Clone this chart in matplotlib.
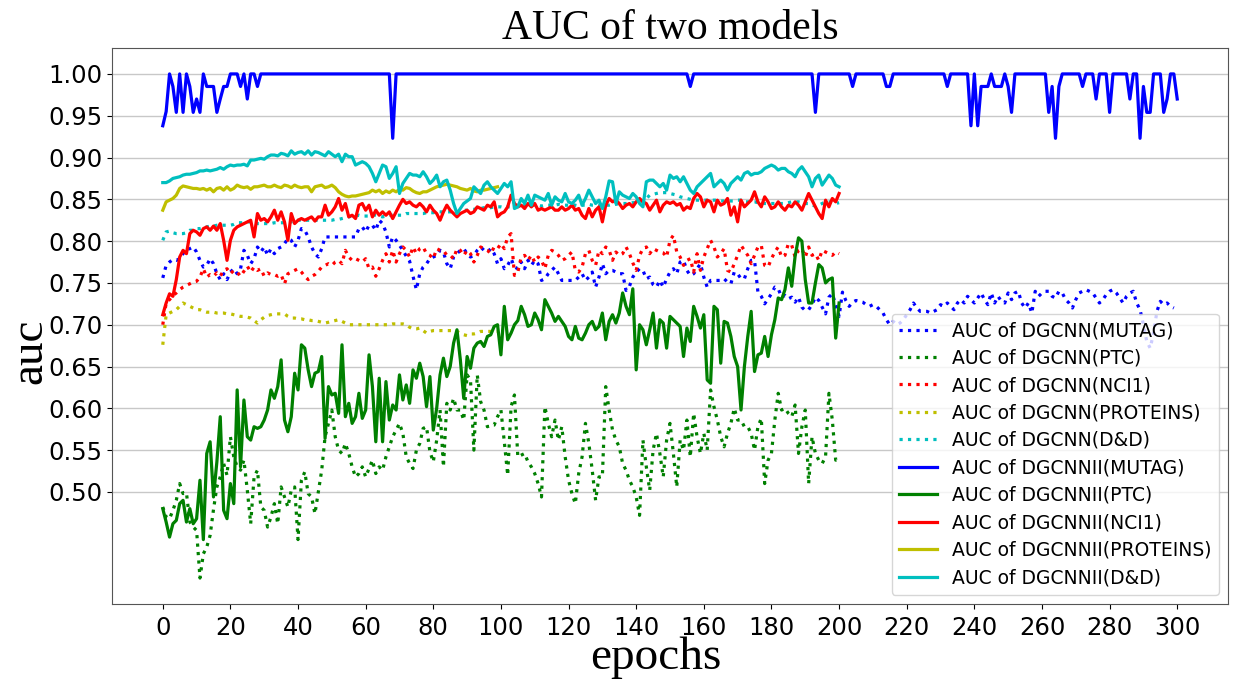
import numpy as np
import matplotlib
matplotlib.use("Agg")
import matplotlib.pyplot as plt

# ---------------- data ----------------
series_names = ["MUTAG", "PTC", "NCI1", "PROTEINS", "D&D"]
series_colors = ["b", "g", "r", "y", "c"]

dgcnn_mutag = [
    0.756, 0.771, 0.775, 0.778, 0.777, 0.779, 0.785, 0.790, 0.791, 0.793,
    0.787, 0.777, 0.769, 0.771, 0.779, 0.773, 0.761, 0.754, 0.761, 0.754,
    0.763, 0.767, 0.761, 0.767, 0.789, 0.783, 0.773, 0.779, 0.793, 0.787,
    0.793, 0.783, 0.791, 0.785, 0.791, 0.793, 0.797, 0.803, 0.801, 0.793,
    0.801, 0.815, 0.813, 0.805, 0.793, 0.785, 0.781, 0.791, 0.805, 0.805,
    0.805, 0.805, 0.805, 0.805, 0.805, 0.805, 0.805, 0.805, 0.815, 0.817,
    0.811, 0.819, 0.819, 0.813, 0.825, 0.821, 0.811, 0.793, 0.805, 0.801,
    0.795, 0.789, 0.782, 0.776, 0.758, 0.742, 0.761, 0.769, 0.773, 0.779,
    0.781, 0.783, 0.789, 0.787, 0.773, 0.767, 0.781, 0.785, 0.789, 0.791,
    0.785, 0.781, 0.783, 0.789, 0.793, 0.789, 0.787, 0.791, 0.785, 0.773,
    0.779, 0.767, 0.771, 0.779, 0.769, 0.767, 0.775, 0.767, 0.777, 0.771,
    0.777, 0.773, 0.753, 0.755, 0.761, 0.765, 0.769, 0.761, 0.753, 0.753,
    0.753, 0.753, 0.753, 0.757, 0.761, 0.753, 0.757, 0.763, 0.745, 0.757,
    0.773, 0.761, 0.765, 0.765, 0.763, 0.761, 0.761, 0.741, 0.746, 0.757,
    0.763, 0.767, 0.765, 0.755, 0.757, 0.748, 0.745, 0.753, 0.745, 0.755,
    0.763, 0.767, 0.761, 0.775, 0.777, 0.765, 0.759, 0.761, 0.767, 0.773,
    0.757, 0.745, 0.753, 0.753, 0.753, 0.753, 0.755, 0.751, 0.749, 0.763,
    0.761, 0.755, 0.755, 0.767, 0.777, 0.777, 0.739, 0.734, 0.725, 0.731,
    0.737, 0.745, 0.743, 0.733, 0.735, 0.731, 0.733, 0.727, 0.733, 0.721,
    0.717, 0.718, 0.724, 0.733, 0.729, 0.721, 0.713, 0.733, 0.737, 0.724,
    0.710, 0.739, 0.729, 0.722, 0.727, 0.729, 0.728, 0.727, 0.724, 0.722,
    0.724, 0.722, 0.718, 0.714, 0.706, 0.700, 0.704, 0.700, 0.702, 0.706,
    0.712, 0.718, 0.726, 0.720, 0.716, 0.716, 0.716, 0.714, 0.716, 0.718,
    0.724, 0.722, 0.726, 0.722, 0.718, 0.726, 0.730, 0.726, 0.734, 0.730,
    0.726, 0.732, 0.738, 0.730, 0.724, 0.738, 0.726, 0.734, 0.728, 0.726,
    0.738, 0.730, 0.738, 0.740, 0.726, 0.720, 0.726, 0.714, 0.740, 0.734,
    0.738, 0.740, 0.740, 0.734, 0.732, 0.740, 0.738, 0.730, 0.726, 0.720,
    0.730, 0.738, 0.740, 0.742, 0.740, 0.738, 0.732, 0.726, 0.730, 0.736,
    0.740, 0.742, 0.738, 0.732, 0.726, 0.734, 0.738, 0.740, 0.726, 0.718,
    0.700, 0.680, 0.672, 0.690, 0.716, 0.728, 0.724, 0.726, 0.722, 0.720,
]

dgcnn_ptc = [
    0.482, 0.470, 0.468, 0.478, 0.490, 0.510, 0.498, 0.499, 0.464, 0.458,
    0.454, 0.397, 0.426, 0.434, 0.448, 0.479, 0.506, 0.518, 0.534, 0.520,
    0.566, 0.542, 0.530, 0.526, 0.538, 0.502, 0.462, 0.518, 0.526, 0.482,
    0.478, 0.458, 0.470, 0.486, 0.462, 0.506, 0.494, 0.482, 0.502, 0.506,
    0.443, 0.514, 0.524, 0.498, 0.494, 0.474, 0.500, 0.526, 0.566, 0.582,
    0.598, 0.566, 0.550, 0.546, 0.558, 0.546, 0.530, 0.518, 0.522, 0.530,
    0.518, 0.528, 0.538, 0.522, 0.530, 0.526, 0.542, 0.554, 0.566, 0.574,
    0.582, 0.570, 0.542, 0.534, 0.528, 0.550, 0.558, 0.576, 0.578, 0.548,
    0.536, 0.562, 0.598, 0.530, 0.606, 0.598, 0.612, 0.598, 0.598, 0.586,
    0.640, 0.634, 0.550, 0.640, 0.608, 0.598, 0.578, 0.580, 0.580, 0.590,
    0.598, 0.560, 0.520, 0.602, 0.616, 0.542, 0.544, 0.546, 0.536, 0.530,
    0.522, 0.510, 0.494, 0.602, 0.582, 0.566, 0.586, 0.562, 0.578, 0.542,
    0.514, 0.498, 0.486, 0.522, 0.542, 0.582, 0.558, 0.526, 0.490, 0.518,
    0.518, 0.626, 0.598, 0.574, 0.562, 0.554, 0.534, 0.526, 0.514, 0.506,
    0.494, 0.472, 0.562, 0.530, 0.502, 0.550, 0.570, 0.546, 0.518, 0.562,
    0.582, 0.546, 0.506, 0.562, 0.550, 0.586, 0.542, 0.594, 0.566, 0.546,
    0.570, 0.550, 0.622, 0.602, 0.586, 0.566, 0.554, 0.570, 0.582, 0.600,
    0.586, 0.586, 0.578, 0.578, 0.570, 0.550, 0.578, 0.588, 0.510, 0.538,
    0.546, 0.586, 0.618, 0.598, 0.600, 0.594, 0.590, 0.604, 0.546, 0.578,
    0.598, 0.510, 0.566, 0.546, 0.538, 0.534, 0.542, 0.618, 0.586, 0.538,
    0.540,
]

dgcnn_nci1 = [
    0.700, 0.726, 0.730, 0.735, 0.738, 0.742, 0.745, 0.747, 0.749, 0.751,
    0.752, 0.757, 0.767, 0.757, 0.760, 0.758, 0.762, 0.758, 0.765, 0.767,
    0.761, 0.765, 0.763, 0.758, 0.764, 0.770, 0.763, 0.769, 0.765, 0.767,
    0.758, 0.762, 0.760, 0.760, 0.758, 0.760, 0.749, 0.761, 0.763, 0.765,
    0.767, 0.763, 0.758, 0.754, 0.758, 0.760, 0.764, 0.769, 0.771, 0.773,
    0.771, 0.775, 0.777, 0.773, 0.789, 0.781, 0.777, 0.779, 0.777, 0.775,
    0.779, 0.767, 0.769, 0.758, 0.767, 0.777, 0.785, 0.775, 0.789, 0.775,
    0.785, 0.793, 0.789, 0.781, 0.793, 0.785, 0.791, 0.793, 0.785, 0.783,
    0.779, 0.791, 0.789, 0.789, 0.783, 0.783, 0.779, 0.791, 0.789, 0.783,
    0.789, 0.785, 0.775, 0.783, 0.793, 0.791, 0.789, 0.785, 0.793, 0.791,
    0.797, 0.791, 0.805, 0.809, 0.759, 0.763, 0.781, 0.783, 0.777, 0.783,
    0.775, 0.781, 0.777, 0.767, 0.783, 0.789, 0.787, 0.783, 0.777, 0.779,
    0.783, 0.787, 0.765, 0.763, 0.769, 0.785, 0.789, 0.777, 0.771, 0.789,
    0.785, 0.793, 0.789, 0.777, 0.787, 0.783, 0.785, 0.793, 0.785, 0.774,
    0.765, 0.783, 0.791, 0.793, 0.785, 0.791, 0.789, 0.787, 0.786, 0.781,
    0.801, 0.807, 0.787, 0.781, 0.771, 0.777, 0.779, 0.763, 0.785, 0.765,
    0.781, 0.791, 0.801, 0.793, 0.781, 0.785, 0.791, 0.765, 0.763, 0.773,
    0.783, 0.795, 0.789, 0.783, 0.773, 0.783, 0.793, 0.795, 0.771, 0.769,
    0.779, 0.787, 0.793, 0.781, 0.783, 0.797, 0.795, 0.781, 0.789, 0.791,
    0.781, 0.793, 0.783, 0.785, 0.777, 0.789, 0.787, 0.785, 0.783, 0.787,
    0.785,
]

dgcnn_proteins = [
    0.676, 0.712, 0.714, 0.716, 0.718, 0.722, 0.726, 0.724, 0.722, 0.720,
    0.718, 0.718, 0.716, 0.715, 0.715, 0.715, 0.714, 0.714, 0.714, 0.713,
    0.713, 0.712, 0.711, 0.710, 0.710, 0.709, 0.708, 0.705, 0.702, 0.706,
    0.709, 0.711, 0.712, 0.713, 0.713, 0.713, 0.713, 0.710, 0.708, 0.708,
    0.707, 0.707, 0.706, 0.706, 0.705, 0.705, 0.704, 0.703, 0.702, 0.703,
    0.704, 0.705, 0.706, 0.704, 0.702, 0.700, 0.700, 0.700, 0.700, 0.700,
    0.700, 0.700, 0.700, 0.700, 0.700, 0.700, 0.700, 0.700, 0.701, 0.701,
    0.701, 0.701, 0.700, 0.697, 0.695, 0.695, 0.696, 0.693, 0.690, 0.692,
    0.693, 0.693, 0.693, 0.693, 0.693, 0.693, 0.693, 0.692, 0.690, 0.688,
    0.687, 0.689, 0.689, 0.690, 0.692, 0.692, 0.692, 0.692, 0.692, 0.692,
]

dgcnn_dd = [
    0.801, 0.811, 0.812, 0.810, 0.809, 0.809, 0.809, 0.810, 0.813, 0.813,
    0.815, 0.815, 0.816, 0.817, 0.818, 0.818, 0.819, 0.819, 0.819, 0.819,
    0.819, 0.820, 0.822, 0.822, 0.822, 0.823, 0.823, 0.822, 0.821, 0.821,
    0.821, 0.821, 0.821, 0.822, 0.822, 0.822, 0.822, 0.823, 0.823, 0.824,
    0.825, 0.825, 0.825, 0.825, 0.825, 0.825, 0.825, 0.825, 0.825, 0.825,
    0.825, 0.826, 0.826, 0.827, 0.828, 0.829, 0.830, 0.830, 0.831, 0.830,
    0.830, 0.830, 0.831, 0.831, 0.830, 0.829, 0.830, 0.831, 0.831, 0.831,
    0.831, 0.831, 0.833, 0.833, 0.833, 0.833, 0.833, 0.833, 0.834, 0.834,
    0.834, 0.835, 0.835, 0.835, 0.835, 0.835, 0.835, 0.835, 0.836, 0.837,
    0.837, 0.838, 0.838, 0.839, 0.839, 0.840, 0.840, 0.840, 0.841, 0.841,
    0.841, 0.840, 0.841, 0.841, 0.842, 0.843, 0.843, 0.843, 0.842, 0.843,
    0.843, 0.843, 0.842, 0.843, 0.843, 0.843, 0.843, 0.844, 0.843, 0.843,
    0.843, 0.844, 0.843, 0.842, 0.843, 0.843, 0.844, 0.843, 0.843, 0.843,
    0.843, 0.843, 0.843, 0.844, 0.844, 0.845, 0.845, 0.845, 0.845, 0.846,
    0.846, 0.847, 0.849, 0.851, 0.855, 0.856, 0.857, 0.858, 0.858, 0.858,
    0.857, 0.856, 0.855, 0.853, 0.852, 0.851, 0.850, 0.849, 0.849, 0.849,
    0.849, 0.849, 0.849, 0.849, 0.849, 0.848, 0.848, 0.848, 0.848, 0.848,
    0.849, 0.849, 0.847, 0.847, 0.847, 0.847, 0.846, 0.846, 0.845, 0.845,
    0.845, 0.845, 0.845, 0.845, 0.845, 0.846, 0.847, 0.847, 0.847, 0.846,
    0.845, 0.845, 0.843, 0.842, 0.843, 0.845, 0.847, 0.847, 0.846, 0.845,
    0.846,
]

dgcnnii_mutag = [
    0.938, 0.955, 1.000, 0.985, 0.954, 1.000, 0.954, 1.000, 0.985, 0.954,
    0.970, 0.954, 1.000, 0.985, 0.985, 0.985, 0.954, 0.970, 0.985, 0.985,
    1.000, 1.000, 1.000, 0.985, 1.000, 0.970, 1.000, 1.000, 0.985, 1.000,
    1.000, 1.000, 1.000, 1.000, 1.000, 1.000, 1.000, 1.000, 1.000, 1.000,
    1.000, 1.000, 1.000, 1.000, 1.000, 1.000, 1.000, 1.000, 1.000, 1.000,
    1.000, 1.000, 1.000, 1.000, 1.000, 1.000, 1.000, 1.000, 1.000, 1.000,
    1.000, 1.000, 1.000, 1.000, 1.000, 1.000, 1.000, 1.000, 0.923, 1.000,
    1.000, 1.000, 1.000, 1.000, 1.000, 1.000, 1.000, 1.000, 1.000, 1.000,
    1.000, 1.000, 1.000, 1.000, 1.000, 1.000, 1.000, 1.000, 1.000, 1.000,
    1.000, 1.000, 1.000, 1.000, 1.000, 1.000, 1.000, 1.000, 1.000, 1.000,
    1.000, 1.000, 1.000, 1.000, 1.000, 1.000, 1.000, 1.000, 1.000, 1.000,
    1.000, 1.000, 1.000, 1.000, 1.000, 1.000, 1.000, 1.000, 1.000, 1.000,
    1.000, 1.000, 1.000, 1.000, 1.000, 1.000, 1.000, 1.000, 1.000, 1.000,
    1.000, 1.000, 1.000, 1.000, 1.000, 1.000, 1.000, 1.000, 1.000, 1.000,
    1.000, 1.000, 1.000, 1.000, 1.000, 1.000, 1.000, 1.000, 1.000, 1.000,
    1.000, 1.000, 1.000, 1.000, 1.000, 1.000, 0.985, 1.000, 1.000, 1.000,
    1.000, 1.000, 1.000, 1.000, 1.000, 1.000, 1.000, 1.000, 1.000, 1.000,
    1.000, 1.000, 1.000, 1.000, 1.000, 1.000, 1.000, 1.000, 1.000, 1.000,
    1.000, 1.000, 1.000, 1.000, 1.000, 1.000, 1.000, 1.000, 1.000, 1.000,
    1.000, 1.000, 1.000, 0.954, 1.000, 1.000, 1.000, 1.000, 1.000, 1.000,
    1.000, 1.000, 1.000, 1.000, 0.985, 1.000, 1.000, 1.000, 1.000, 1.000,
    1.000, 1.000, 1.000, 1.000, 0.985, 0.985, 1.000, 1.000, 1.000, 1.000,
    1.000, 1.000, 1.000, 1.000, 1.000, 1.000, 1.000, 1.000, 1.000, 1.000,
    1.000, 1.000, 0.985, 1.000, 1.000, 1.000, 1.000, 1.000, 1.000, 0.938,
    1.000, 0.938, 0.985, 0.985, 0.985, 1.000, 0.985, 0.985, 0.985, 1.000,
    0.985, 0.954, 1.000, 1.000, 1.000, 1.000, 1.000, 1.000, 1.000, 1.000,
    1.000, 1.000, 0.954, 0.985, 0.923, 0.985, 1.000, 1.000, 1.000, 1.000,
    1.000, 1.000, 0.985, 1.000, 1.000, 1.000, 0.970, 1.000, 1.000, 1.000,
    0.954, 1.000, 1.000, 1.000, 1.000, 1.000, 0.970, 1.000, 1.000, 0.923,
    0.985, 0.954, 0.954, 1.000, 1.000, 1.000, 0.954, 0.970, 1.000, 1.000,
    0.970,
]

dgcnnii_ptc = [
    0.480, 0.464, 0.446, 0.462, 0.466, 0.486, 0.490, 0.464, 0.480, 0.462,
    0.468, 0.514, 0.443, 0.546, 0.560, 0.494, 0.536, 0.590, 0.478, 0.468,
    0.510, 0.486, 0.622, 0.530, 0.610, 0.566, 0.562, 0.578, 0.576, 0.578,
    0.586, 0.598, 0.622, 0.612, 0.626, 0.658, 0.586, 0.572, 0.590, 0.642,
    0.622, 0.676, 0.672, 0.646, 0.626, 0.642, 0.644, 0.662, 0.564, 0.626,
    0.616, 0.618, 0.594, 0.676, 0.590, 0.606, 0.582, 0.590, 0.618, 0.588,
    0.598, 0.664, 0.626, 0.560, 0.636, 0.560, 0.632, 0.586, 0.604, 0.598,
    0.640, 0.610, 0.628, 0.606, 0.646, 0.636, 0.654, 0.638, 0.602, 0.638,
    0.574, 0.600, 0.640, 0.660, 0.638, 0.650, 0.678, 0.694, 0.658, 0.612,
    0.662, 0.648, 0.672, 0.678, 0.680, 0.674, 0.686, 0.688, 0.698, 0.700,
    0.664, 0.722, 0.682, 0.690, 0.700, 0.705, 0.722, 0.712, 0.698, 0.700,
    0.714, 0.706, 0.694, 0.730, 0.722, 0.714, 0.704, 0.710, 0.704, 0.698,
    0.686, 0.682, 0.698, 0.684, 0.682, 0.690, 0.700, 0.704, 0.694, 0.698,
    0.714, 0.682, 0.704, 0.712, 0.702, 0.714, 0.738, 0.722, 0.712, 0.743,
    0.646, 0.700, 0.694, 0.676, 0.694, 0.714, 0.672, 0.706, 0.702, 0.672,
    0.710, 0.706, 0.702, 0.698, 0.662, 0.696, 0.680, 0.722, 0.710, 0.696,
    0.712, 0.634, 0.630, 0.722, 0.718, 0.654, 0.704, 0.702, 0.686, 0.662,
    0.650, 0.598, 0.650, 0.686, 0.716, 0.644, 0.664, 0.666, 0.686, 0.662,
    0.688, 0.706, 0.732, 0.730, 0.742, 0.768, 0.746, 0.782, 0.804, 0.800,
    0.754, 0.726, 0.726, 0.750, 0.772, 0.768, 0.750, 0.754, 0.756, 0.684,
    0.726,
]

dgcnnii_nci1 = [
    0.712, 0.726, 0.737, 0.734, 0.754, 0.781, 0.789, 0.785, 0.809, 0.813,
    0.811, 0.807, 0.815, 0.817, 0.813, 0.818, 0.813, 0.821, 0.801, 0.777,
    0.801, 0.813, 0.817, 0.819, 0.821, 0.823, 0.825, 0.805, 0.833, 0.825,
    0.827, 0.823, 0.829, 0.837, 0.825, 0.835, 0.823, 0.801, 0.833, 0.821,
    0.825, 0.827, 0.825, 0.827, 0.829, 0.824, 0.829, 0.829, 0.843, 0.831,
    0.835, 0.841, 0.851, 0.837, 0.845, 0.829, 0.831, 0.827, 0.843, 0.845,
    0.837, 0.843, 0.829, 0.837, 0.831, 0.835, 0.831, 0.835, 0.827, 0.835,
    0.843, 0.850, 0.845, 0.847, 0.843, 0.841, 0.845, 0.841, 0.835, 0.843,
    0.837, 0.833, 0.825, 0.835, 0.843, 0.837, 0.833, 0.829, 0.833, 0.835,
    0.837, 0.833, 0.835, 0.841, 0.839, 0.837, 0.843, 0.841, 0.847, 0.829,
    0.833, 0.835, 0.841, 0.855, 0.845, 0.841, 0.843, 0.839, 0.845, 0.841,
    0.845, 0.837, 0.839, 0.837, 0.839, 0.841, 0.837, 0.837, 0.841, 0.837,
    0.839, 0.843, 0.837, 0.839, 0.831, 0.827, 0.839, 0.829, 0.837, 0.841,
    0.823, 0.843, 0.851, 0.847, 0.849, 0.845, 0.839, 0.843, 0.845, 0.841,
    0.847, 0.851, 0.847, 0.845, 0.837, 0.843, 0.849, 0.835, 0.843, 0.847,
    0.845, 0.847, 0.843, 0.845, 0.837, 0.841, 0.839, 0.851, 0.857, 0.853,
    0.841, 0.849, 0.847, 0.835, 0.849, 0.843, 0.845, 0.851, 0.831, 0.841,
    0.823, 0.849, 0.841, 0.845, 0.849, 0.859, 0.847, 0.841, 0.853, 0.847,
    0.839, 0.841, 0.847, 0.841, 0.837, 0.843, 0.841, 0.847, 0.843, 0.837,
    0.847, 0.857, 0.849, 0.841, 0.833, 0.827, 0.849, 0.841, 0.851, 0.847,
    0.857,
]

dgcnnii_proteins = [
    0.837, 0.847, 0.849, 0.851, 0.855, 0.863, 0.866, 0.865, 0.864, 0.863,
    0.863, 0.862, 0.863, 0.861, 0.863, 0.859, 0.863, 0.864, 0.861, 0.865,
    0.861, 0.863, 0.867, 0.865, 0.864, 0.865, 0.862, 0.865, 0.865, 0.866,
    0.867, 0.865, 0.865, 0.867, 0.865, 0.864, 0.867, 0.866, 0.864, 0.867,
    0.865, 0.864, 0.865, 0.865, 0.859, 0.865, 0.866, 0.867, 0.864, 0.865,
    0.867, 0.864, 0.859, 0.856, 0.854, 0.853, 0.854, 0.854, 0.855, 0.856,
    0.857, 0.858, 0.861, 0.859, 0.861, 0.857, 0.860, 0.858, 0.861, 0.859,
    0.862, 0.861, 0.864, 0.863, 0.860, 0.858, 0.857, 0.859, 0.859, 0.861,
    0.863, 0.865, 0.866, 0.867, 0.868, 0.867, 0.866, 0.865, 0.863, 0.862,
    0.861, 0.863, 0.860, 0.859, 0.861, 0.861, 0.862, 0.863, 0.864, 0.865,
]

dgcnnii_dd = [
    0.870, 0.870, 0.872, 0.875, 0.876, 0.877, 0.879, 0.880, 0.880, 0.881,
    0.882, 0.884, 0.884, 0.885, 0.884, 0.885, 0.886, 0.888, 0.886, 0.889,
    0.891, 0.890, 0.891, 0.891, 0.892, 0.890, 0.897, 0.897, 0.898, 0.899,
    0.898, 0.901, 0.903, 0.903, 0.902, 0.905, 0.904, 0.902, 0.908, 0.904,
    0.906, 0.907, 0.904, 0.908, 0.903, 0.907, 0.906, 0.904, 0.902, 0.907,
    0.904, 0.901, 0.904, 0.895, 0.904, 0.901, 0.901, 0.891, 0.893, 0.895,
    0.893, 0.889, 0.881, 0.871, 0.881, 0.891, 0.889, 0.875, 0.881, 0.889,
    0.857, 0.869, 0.875, 0.881, 0.879, 0.879, 0.877, 0.883, 0.877, 0.869,
    0.873, 0.879, 0.865, 0.871, 0.873, 0.861, 0.845, 0.833, 0.839, 0.845,
    0.848, 0.851, 0.865, 0.861, 0.857, 0.867, 0.871, 0.865, 0.861, 0.857,
    0.863, 0.869, 0.865, 0.871, 0.839, 0.841, 0.851, 0.845, 0.855, 0.843,
    0.855, 0.853, 0.851, 0.849, 0.857, 0.843, 0.853, 0.849, 0.847, 0.857,
    0.847, 0.845, 0.849, 0.855, 0.843, 0.851, 0.861, 0.853, 0.845, 0.849,
    0.839, 0.853, 0.872, 0.871, 0.845, 0.859, 0.855, 0.853, 0.851, 0.857,
    0.853, 0.845, 0.841, 0.871, 0.873, 0.873, 0.869, 0.865, 0.869, 0.861,
    0.879, 0.875, 0.877, 0.871, 0.877, 0.869, 0.861, 0.857, 0.865, 0.869,
    0.873, 0.877, 0.881, 0.865, 0.869, 0.873, 0.869, 0.861, 0.869, 0.873,
    0.877, 0.873, 0.881, 0.883, 0.879, 0.881, 0.881, 0.883, 0.887, 0.889,
    0.891, 0.889, 0.885, 0.887, 0.887, 0.883, 0.881, 0.877, 0.885, 0.889,
    0.883, 0.877, 0.865, 0.875, 0.879, 0.867, 0.873, 0.879, 0.875, 0.867,
    0.865,
]

dgcnn_series = [dgcnn_mutag, dgcnn_ptc, dgcnn_nci1, dgcnn_proteins, dgcnn_dd]
dgcnnii_series = [dgcnnii_mutag, dgcnnii_ptc, dgcnnii_nci1, dgcnnii_proteins, dgcnnii_dd]

x_ticks = list(range(0, 301, 20))
y_ticks = [0.50, 0.55, 0.60, 0.65, 0.70, 0.75, 0.80, 0.85, 0.90, 0.95, 1.00]

# ---------------- plot ----------------
fig = plt.figure(figsize=(12.34, 6.79), dpi=100)
ax = fig.add_axes([0.0908, 0.1105, 0.9043, 0.8188])

for vals, name, col in zip(dgcnn_series, series_names, series_colors):
    ax.plot(np.arange(len(vals)), vals, linestyle=":", color=col, linewidth=2.3,
            label=f"AUC of DGCNN({name})")
for vals, name, col in zip(dgcnnii_series, series_names, series_colors):
    ax.plot(np.arange(len(vals)), vals, linestyle="-", color=col, linewidth=2.3,
            label=f"AUC of DGCNNII({name})")

ax.set_xlim(-15, 315)
ax.set_ylim(0.366, 1.031)
ax.set_xticks(x_ticks)
ax.set_yticks(y_ticks)
ax.set_yticklabels([f"{v:.2f}" for v in y_ticks])
ax.tick_params(axis="both", labelsize=17.5)
ax.tick_params(axis="x", pad=5)
ax.grid(axis="y", color="#c8c8c8", linewidth=1.0)
ax.set_axisbelow(True)
for sp in ax.spines.values():
    sp.set_color("#555555")

serif = ["Liberation Serif", "DejaVu Serif"]
ax.set_title("AUC of two models", fontsize=30, family=serif, pad=6)
ax.set_xlabel("epochs", fontsize=34, family=serif)
ax.set_ylabel("auc", fontsize=34, family=serif)
ax.xaxis.set_label_coords(0.4875, -0.058)
ax.yaxis.set_label_coords(-0.054, 0.455)

ax.legend(loc="lower right", fontsize=13.5, labelspacing=0.45)

fig.savefig("out.png", dpi=100)
